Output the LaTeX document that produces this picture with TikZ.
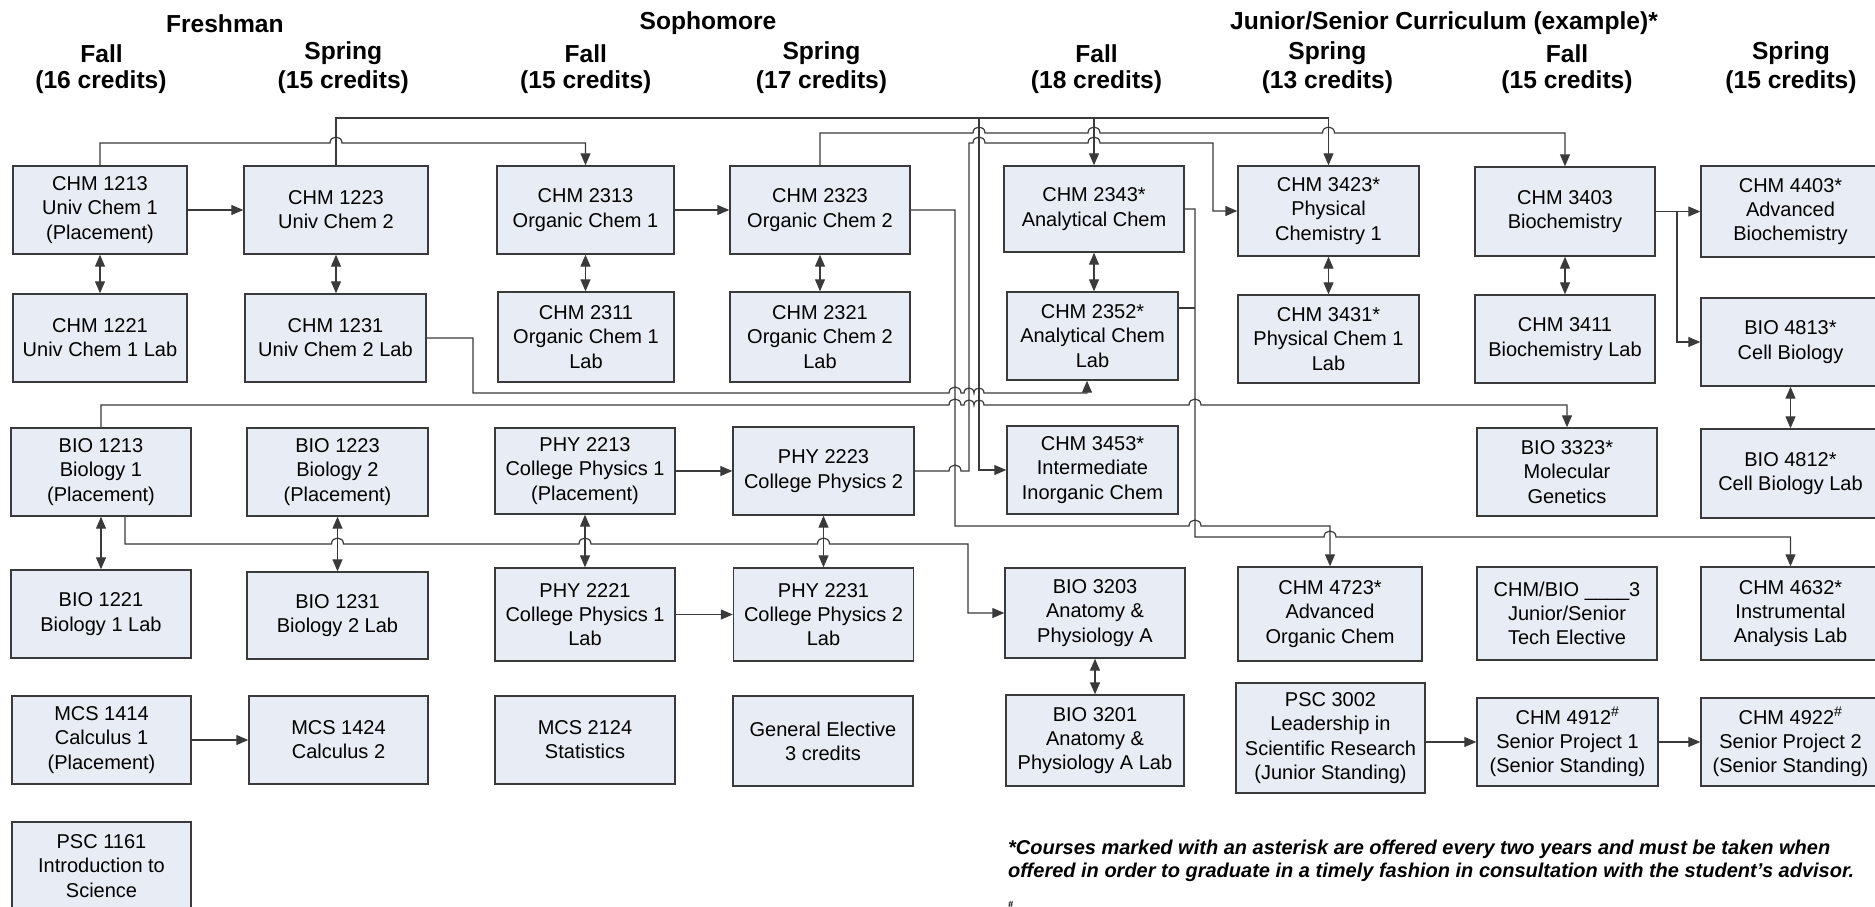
\documentclass[tikz,border=0pt]{standalone}
\usepackage{fontspec}
\setmainfont{Liberation Sans}
\usetikzlibrary{arrows.meta}
\definecolor{boxfill}{HTML}{E7ECF5}
\definecolor{edgecol}{HTML}{3A3A3A}
\newcommand{\jumpover}[3]{-- (#1-#3,#2) .. controls (#1-#3,#2-1.33*#3) and (#1+#3,#2-1.33*#3) .. (#1+#3,#2)}
\tikzset{
  course/.style={draw=edgecol, line width=1.4pt, fill=boxfill, inner sep=0pt, align=center,
    font=\fontsize{20}{24.2}\selectfont},
  conn/.style={draw=edgecol, line width=1.2pt},
  arr/.style={conn, -{Triangle[length=12pt,width=10pt]}},
  darr/.style={conn, {Triangle[length=12pt,width=10pt]}-{Triangle[length=12pt,width=10pt]}},
  hdr/.style={font=\bfseries\fontsize{24.6}{28.4}\selectfont, inner sep=0pt},
  foot/.style={font=\bfseries\itshape\fontsize{20}{22}\selectfont, inner sep=0pt, anchor=west},
}
\begin{document}
\begin{tikzpicture}[x=1pt,y=-1pt]
\fill[white] (0,0) rectangle (1875,906);
\useasboundingbox (0,0) rectangle (1875,906);

% headers
\node[hdr] (hFr) at (224.8,23.3) {Freshman};
\node[hdr] (hSo) at (708,23.3) {Sophomore};
\node[hdr] (hJS) at (1444,23.3) {Junior/Senior Curriculum (example)*};
\node[hdr] (s1) at (101.5,53.3) {Fall};
\node[hdr] (s1c) at (101,81.7) {(16 credits)};
\node[hdr] (s2) at (343.3,53.3) {Spring};
\node[hdr] (s2c) at (343.3,81.7) {(15 credits)};
\node[hdr] (s3) at (585.8,53.3) {Fall};
\node[hdr] (s3c) at (585.8,81.7) {(15 credits)};
\node[hdr] (s4) at (821.5,53.3) {Spring};
\node[hdr] (s4c) at (821.5,81.7) {(17 credits)};
\node[hdr] (s5) at (1096.5,53.3) {Fall};
\node[hdr] (s5c) at (1096.5,81.7) {(18 credits)};
\node[hdr] (s6) at (1327.4,53.3) {Spring};
\node[hdr] (s6c) at (1327.4,81.7) {(13 credits)};
\node[hdr] (s7) at (1567,53.3) {Fall};
\node[hdr] (s7c) at (1567,81.7) {(15 credits)};
\node[hdr] (s8) at (1791,53.3) {Spring};
\node[hdr] (s8c) at (1791,81.7) {(15 credits)};

% row 1
\node[course, minimum width=174pt, minimum height=88pt] (c1213) at (100,210) {CHM 1213\\Univ Chem 1\\(Placement)};
\node[course, minimum width=184pt, minimum height=88pt] (c1223) at (336,210) {CHM 1223\\Univ Chem 2};
\node[course, minimum width=177pt, minimum height=88pt] (c2313) at (585.5,210) {CHM 2313\\Organic Chem 1};
\node[course, minimum width=180pt, minimum height=88pt] (c2323) at (820,210) {CHM 2323\\Organic Chem 2};
\node[course, minimum width=180pt, minimum height=86pt] (c2343) at (1094,209) {CHM 2343*\\Analytical Chem};
\node[course, minimum width=181pt, minimum height=90pt] (c3423) at (1328.5,211) {CHM 3423*\\Physical\\Chemistry 1};
\node[course, minimum width=180pt, minimum height=89pt] (c3403) at (1565,211.5) {CHM 3403\\Biochemistry};
\node[course, minimum width=179pt, minimum height=91pt] (c4403) at (1790.5,211.5) {CHM 4403*\\Advanced\\Biochemistry};

% row 2
\node[course, minimum width=174pt, minimum height=88pt] (c1221) at (100,338) {CHM 1221\\Univ Chem 1 Lab};
\node[course, minimum width=181pt, minimum height=88pt] (c1231) at (335.5,338) {CHM 1231\\Univ Chem 2 Lab};
\node[course, minimum width=176pt, minimum height=90pt] (c2311) at (586,337) {CHM 2311\\Organic Chem 1\\Lab};
\node[course, minimum width=180pt, minimum height=90pt] (c2321) at (820,337) {CHM 2321\\Organic Chem 2\\Lab};
\node[course, minimum width=171pt, minimum height=88pt] (c2352) at (1092.5,336) {CHM 2352*\\Analytical Chem\\Lab};
\node[course, minimum width=181pt, minimum height=88pt] (c3431) at (1328.5,339) {CHM 3431*\\Physical Chem 1\\Lab};
\node[course, minimum width=180pt, minimum height=88pt] (c3411) at (1565,339) {CHM 3411\\Biochemistry Lab};
\node[course, minimum width=179pt, minimum height=88pt] (b4813) at (1790.5,342) {BIO 4813*\\Cell Biology};

% row 3
\node[course, minimum width=180pt, minimum height=88pt] (b1213) at (101,472) {BIO 1213\\Biology 1\\(Placement)};
\node[course, minimum width=181pt, minimum height=88pt] (b1223) at (337.5,472) {BIO 1223\\Biology 2\\(Placement)};
\node[course, minimum width=180pt, minimum height=86pt] (p2213) at (585,471) {PHY 2213\\College Physics 1\\(Placement)};
\node[course, minimum width=181pt, minimum height=88pt] (p2223) at (823.5,471) {PHY 2223\\College Physics 2};
\node[course, minimum width=171pt, minimum height=88pt] (c3453) at (1092.5,470) {CHM 3453*\\Intermediate\\Inorganic Chem};
\node[course, minimum width=180pt, minimum height=88pt] (b3323) at (1567,472) {BIO 3323*\\Molecular\\Genetics};
\node[course, minimum width=179pt, minimum height=89pt] (b4812) at (1790.5,473.5) {BIO 4812*\\Cell Biology Lab};

% row 4
\node[course, minimum width=180pt, minimum height=88pt] (b1221) at (101,614) {BIO 1221\\Biology 1 Lab};
\node[course, minimum width=181pt, minimum height=87pt] (b1231) at (337.5,615.5) {BIO 1231\\Biology 2 Lab};
\node[course, minimum width=180pt, minimum height=93pt] (p2221) at (585,614.5) {PHY 2221\\College Physics 1\\Lab};
\node[course, minimum width=180pt, minimum height=93pt] (p2231) at (823.5,614.5) {PHY 2231\\College Physics 2\\Lab};
\node[course, minimum width=180pt, minimum height=90pt] (b3203) at (1095,613) {BIO 3203\\Anatomy \&\\Physiology A};
\node[course, minimum width=184pt, minimum height=94pt] (c4723) at (1330,614) {CHM 4723*\\Advanced\\Organic Chem};
\node[course, minimum width=180pt, minimum height=93pt] (cbio) at (1567,613.5) {CHM/BIO \_\_\_\_3\\Junior/Senior\\Tech Elective};
\node[course, minimum width=179pt, minimum height=93pt] (c4632) at (1790.5,613.5) {CHM 4632*\\Instrumental\\Analysis Lab};

% row 5
\node[course, minimum width=179pt, minimum height=88pt] (m1414) at (101.5,740) {MCS 1414\\Calculus 1\\(Placement)};
\node[course, minimum width=179pt, minimum height=88pt] (m1424) at (338.5,740) {MCS 1424\\Calculus 2};
\node[course, minimum width=180pt, minimum height=88pt] (m2124) at (585,740) {MCS 2124\\Statistics};
\node[course, minimum width=180pt, minimum height=90pt] (genel) at (823,741) {General Elective\\3 credits};
\node[course, minimum width=178pt, minimum height=91pt] (b3201) at (1095,740.5) {BIO 3201\\Anatomy \&\\Physiology A Lab};
\node[course, minimum width=189pt, minimum height=110pt] (p3002) at (1330.5,738) {PSC 3002\\Leadership in\\Scientific Research\\(Junior Standing)};
\node[course, minimum width=181pt, minimum height=88pt] (c4912) at (1567.5,742) {CHM 4912\textsuperscript{\#}\\Senior Project 1\\(Senior Standing)};
\node[course, minimum width=179pt, minimum height=88pt] (c4922) at (1790.5,742) {CHM 4922\textsuperscript{\#}\\Senior Project 2\\(Senior Standing)};

% row 6
\node[course, minimum width=179pt, minimum height=88pt] (p1161) at (101.5,866) {PSC 1161\\Introduction to\\Science};

% footnote
\node[foot] (fn1) at (1008,849) {*Courses marked with an asterisk are offered every two years and must be taken when};
\node[foot] (fn2) at (1008,872.5) {offered in order to graduate in a timely fashion in consultation with the student’s advisor.};
\node[font=\bfseries\itshape\fontsize{9}{9}\selectfont, inner sep=0pt, anchor=north west] (fn3) at (1008,901) {\#};

% simple arrows
\draw[arr] (c1213.east) -- (c1223.west);
\draw[arr] (c2313.east) -- (c2323.west);
\draw[arr] (p2213.east) -- (p2223.west);
\draw[arr] (p2221.east) -- (p2231.west);
\draw[arr] (m1414.east) -- (m1424.west);
\draw[arr] (p3002.east |- c4912.west) -- (c4912.west);
\draw[arr] (c4912.east) -- (c4922.west);

% lecture-lab double arrows
\draw[darr] (c1213.south) -- (c1213.south |- c1221.north);
\draw[darr] (c1223.south) -- (c1223.south |- c1231.north);
\draw[darr] (c2313.south) -- (c2313.south |- c2311.north);
\draw[darr] (c2323.south) -- (c2323.south |- c2321.north);
\draw[darr] (c2343.south) -- (c2343.south |- c2352.north);
\draw[darr] (c3423.south) -- (c3423.south |- c3431.north);
\draw[darr] (c3403.south) -- (c3403.south |- c3411.north);
\draw[darr] (b4813.south) -- (b4813.south |- b4812.north);
\draw[darr] (b1213.south) -- (b1213.south |- b1221.north);
\draw[darr] (b1223.south) -- (b1223.south |- b1231.north);
\draw[darr] (p2213.south) -- (p2213.south |- p2221.north);
\draw[darr] (p2223.south) -- (p2223.south |- p2231.north);
\draw[darr] (b3203.south) -- (b3203.south |- b3201.north);

% CHM 1213 -> CHM 2313
\draw[arr] (c1213.north) -- (100,143) \jumpover{336}{143}{6} -- (c2313.north |- 0,143) -- (c2313.north);

% CHM 1223 -> CHM 3423, CHM 2343, CHM 3453
\draw[arr] (c1223.north) -- (336,118) -- (c3423.north |- 0,118) -- (c3423.north);
\coordinate (tA) at (979,118);
\coordinate (tB) at (1094,118);
\draw[arr] (tB) -- (c2343.north);
\draw[arr] (tA) -- (979,470) -- (c3453.west);

% CHM 2323 -> CHM 3403
\draw[arr] (c2323.north) -- (820,133) \jumpover{979}{133}{6} \jumpover{1094}{133}{6} \jumpover{1328.5}{133}{6} -- (c3403.north |- 0,133) -- (c3403.north);

% CHM 2323 -> CHM 4723
\draw[arr] (c2323.east) -- (955,210) -- (955,526) \jumpover{1195}{526}{6} -- (c4723.north |- 0,526) -- (c4723.north);

% CHM 2343 / CHM 2352 -> CHM 4632
\draw[arr] (c2343.east) -- (1195,209) -- (1195,537) \jumpover{1330}{537}{6} -- (c4632.north |- 0,537) -- (c4632.north);
\coordinate (jE) at (1195,308);
\draw[conn] (c2352.east |- jE) -- (jE);

% CHM 1231 -> CHM 2352
\draw[arr] (c1231.east) -- (473,338) -- (473,393) \jumpover{955}{393}{6} \jumpover{969}{393}{5} \jumpover{979}{393}{5} -- (1087,393) -- ([xshift=-5.5pt]c2352.south);

% BIO 1213 -> BIO 3323
\draw[arr] (b1213.north) -- (101,405) \jumpover{955}{405}{6} \jumpover{969}{405}{5} \jumpover{979}{405}{5} \jumpover{1195}{405}{6} -- (b3323.north |- 0,405) -- (b3323.north);

% BIO 1213 -> BIO 3203
\draw[arr] ([xshift=24pt]b1213.south) -- (125,544) \jumpover{337.5}{544}{6} \jumpover{585}{544}{6} \jumpover{823.5}{544}{6} -- (968,544) -- (968,613) -- (b3203.west);

% PHY 2223 -> CHM 3423
\draw[arr] (p2223.east) \jumpover{955}{471}{6} -- (969,471) -- (969,143) \jumpover{979}{143}{6} \jumpover{1094}{143}{6} -- (1213,143) -- (1213,211) -- (c3423.west);

% CHM 3403 -> CHM 4403, BIO 4813
\draw[arr] (c3403.east) -- (1677,211.5) -- (c4403.west);
\coordinate (jB) at (1677,211.5);
\draw[arr] (jB) -- (1677,342) -- (b4813.west);
\end{tikzpicture}
\end{document}
